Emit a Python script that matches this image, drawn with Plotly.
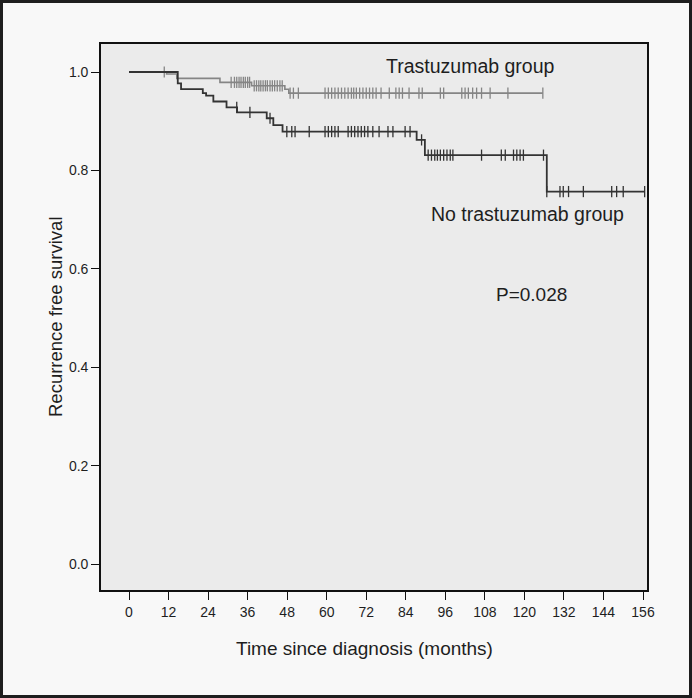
import plotly.graph_objects as go
import numpy as np

# ---- data ----
tras_times = [0, 11.4, 14.5, 27.6, 37.2, 47.3, 48.5]
tras_surv = [1.0, 0.996, 0.987, 0.979, 0.972, 0.965, 0.957]
tras_end = 125.6
tras_censor = [10.7, 31, 32, 32.7, 33.4, 34, 34.7, 35.3, 36, 36.6, 38, 38.7, 39.4, 40,
               40.7, 41.4, 42, 42.8, 43.5, 44.2, 45, 45.8, 46.5, 48.9, 49.9, 51.4, 59.5,
               60.5, 61.5, 62.5, 63.5, 64.5, 65.5, 66.5, 67.5, 68.2, 69, 70, 71, 72, 73,
               74, 75, 76.5, 79, 81, 82, 83, 85, 88, 89, 94.5, 95.5, 101, 102, 103, 104.3,
               105.5, 107, 109.6, 115, 125.6]

notr_times = [0, 14.8, 15.8, 22.4, 23.4, 25.6, 29.6, 32.8, 41.8, 43.8, 46.6, 87.3, 89.8, 126.8]
notr_surv = [1.0, 0.977, 0.965, 0.957, 0.952, 0.940, 0.928, 0.918, 0.906, 0.892, 0.879,
             0.862, 0.831, 0.757]
notr_end = 156.5
notr_censor = [32.7, 36.7, 42.8, 47.9, 49.4, 50.4, 54.7, 59.5, 60.5, 61.5, 62.5, 63.5, 66.5,
               67.5, 68.5, 69.5, 70.5, 71.5, 72.5, 74, 75.9, 78.6, 80.1, 83.8, 85.3, 88.8,
               90.8, 91.8, 92.8, 93.6, 94.5, 95.5, 96.5, 97.5, 98.3, 107, 113, 114.2, 116.7,
               117.7, 118.7, 119.7, 125.8, 126.8, 130.8, 131.8, 133.4, 137.9, 146.5, 148,
               150, 156.5]

x_ticks = list(range(0, 157, 12))
y_ticks = [0.0, 0.2, 0.4, 0.6, 0.8, 1.0]

labels = {"tras": "Trastuzumab group", "notr": "No trastuzumab group", "p": "P=0.028"}


def surv_at(times, surv, t):
    idx = np.searchsorted(np.array(times), t, side="right") - 1
    return surv[max(idx, 0)]


FONT = "Liberation Sans, Arial, sans-serif"
TXT = "#1e1e1e"
LIGHT = "#858585"
DARK = "#333333"

fig = go.Figure()

for times, surv, end, cens, col, w in [
    (tras_times, tras_surv, tras_end, tras_censor, LIGHT, 1.6),
    (notr_times, notr_surv, notr_end, notr_censor, DARK, 1.8),
]:
    fig.add_trace(go.Scatter(
        x=times + [end], y=surv + [surv[-1]], mode="lines",
        line=dict(shape="hv", color=col, width=w), hoverinfo="skip", showlegend=False))
    fig.add_trace(go.Scatter(
        x=cens, y=[surv_at(times, surv, c) for c in cens], mode="markers",
        marker=dict(symbol="line-ns", size=8, line=dict(color=col, width=1.3)),
        hoverinfo="skip", showlegend=False))

L, R, T, B = 101, 647, 44, 590
W, H = 692, 698
pw, ph = R - L, B - T


def px(xp):
    return (xp - L) / pw


def py(yp):
    return (B - yp) / ph


ann = dict(showarrow=False, xanchor="center", yanchor="middle")
fig.add_annotation(x=103.5, y=1.012, xref="x", yref="y", text=labels["tras"],
                   font=dict(family=FONT, size=19.5, color=TXT), **ann)
fig.add_annotation(x=120.8, y=0.711, xref="x", yref="y", text=labels["notr"],
                   font=dict(family=FONT, size=19.5, color=TXT), **ann)
fig.add_annotation(x=122.3, y=0.547, xref="x", yref="y", text=labels["p"],
                   font=dict(family=FONT, size=19, color=TXT), **ann)
fig.add_annotation(x=px(364), y=py(648), xref="paper", yref="paper",
                   text="Time since diagnosis (months)",
                   font=dict(family=FONT, size=19, color=TXT), **ann)
fig.add_annotation(x=px(55), y=py(317), xref="paper", yref="paper",
                   text="Recurrence free survival", textangle=-90,
                   font=dict(family=FONT, size=18.5, color=TXT), **ann)

# outer frame
fig.add_shape(type="rect", xref="paper", yref="paper",
              x0=px(1.5), x1=px(W - 1.5), y0=py(H - 1.5), y1=py(1.5),
              line=dict(color="#1e1e1e", width=3), fillcolor="rgba(0,0,0,0)", layer="above")

x_per_px = 156 / (643 - 129)
xmin = 0 - (129 - L) * x_per_px
xmax = 0 + (R - 129) * x_per_px
y_per_px = 1.0 / (564 - 72)
ymin = 0 - (B - 564) * y_per_px
ymax = 1.0 + (72 - T) * y_per_px

fig.update_layout(
    width=W, height=H,
    margin=dict(l=L, r=W - R, t=T, b=H - B),
    paper_bgcolor="#f8f8f8", plot_bgcolor="#ebebeb",
    font=dict(family=FONT, color=TXT),
    xaxis=dict(range=[xmin, xmax], tickvals=x_ticks, ticks="outside", ticklen=8,
               tickwidth=1.3, tickcolor="#111", showline=True, linecolor="#111",
               linewidth=1.6, mirror=True, showgrid=False, zeroline=False,
               tickfont=dict(family=FONT, size=14, color=TXT)),
    yaxis=dict(range=[ymin, ymax], tickvals=y_ticks, tickformat=".1f", ticks="outside",
               ticklen=8, tickwidth=1.3, tickcolor="#111", showline=True, linecolor="#111",
               linewidth=1.6, mirror=True, showgrid=False, zeroline=False,
               tickfont=dict(family=FONT, size=14, color=TXT)),
)

fig.write_html("out.html", config={"displayModeBar": False},
               post_script="document.body.style.margin='0px';")
